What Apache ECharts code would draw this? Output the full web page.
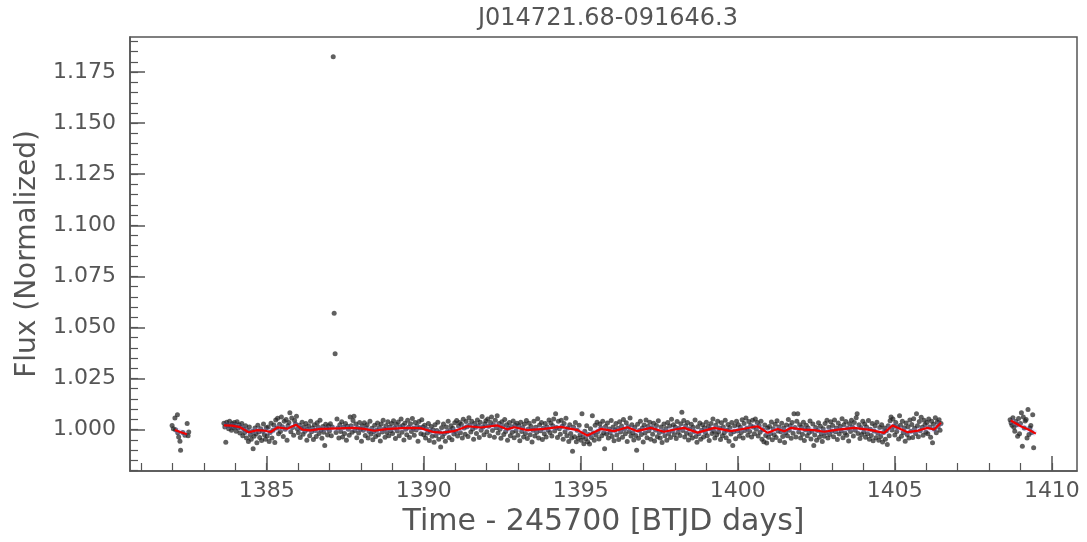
<!DOCTYPE html>
<html>
<head>
<meta charset="utf-8">
<title>J014721.68-091646.3</title>
<script src="https://cdn.jsdelivr.net/npm/echarts@6/dist/echarts.min.js"></script>
<style>
  html, body { margin: 0; padding: 0; background: #fff; }
  #chart { width: 1087px; height: 542px; }
</style>
</head>
<body>
<div id="chart"></div>
<script>
// Light curve, [time (BTJD - 245700), normalized flux]
const segmentA = [
  [1381.99,1.0020],[1382.03,1.0004],[1382.08,1.0057],[1382.10,0.9999],[1382.16,1.0073],[1382.17,0.9984],[1382.20,0.9964],
  [1382.24,0.9943],[1382.26,0.9899],[1382.33,0.9985],[1382.40,0.9972],[1382.47,1.0030],[1382.50,0.9970],[1382.52,0.9988]
];

const segmentB = [
  [1383.64,1.0031],[1383.67,1.0012],[1383.70,0.9938],[1383.73,1.0036],[1383.76,1.0021],[1383.79,1.0004],[1383.82,1.0040],[1383.85,1.0019],[1383.88,0.9996],[1383.91,1.0028],[1383.94,1.0009],[1383.97,1.0034],
  [1384.00,1.0015],[1384.03,0.9992],[1384.06,1.0038],[1384.09,1.0007],[1384.12,1.0024],[1384.15,0.9983],[1384.18,1.0011],[1384.21,1.0030],[1384.24,0.9969],[1384.27,1.0003],[1384.30,0.9986],[1384.33,1.0019],
  [1384.36,0.9958],[1384.39,0.9995],[1384.42,0.9941],[1384.45,1.0012],[1384.48,0.9974],[1384.51,0.9952],[1384.54,0.9990],[1384.57,0.9906],[1384.60,0.9967],[1384.63,1.0008],[1384.66,0.9979],[1384.69,0.9935],
  [1384.72,1.0021],[1384.75,0.9988],[1384.78,0.9961],[1384.81,1.0004],[1384.84,0.9946],[1384.87,0.9992],[1384.90,1.0027],[1384.93,0.9975],[1384.96,0.9953],[1384.99,1.0009],
  [1385.02,0.9968],[1385.05,1.0013],[1385.08,0.9942],[1385.11,0.9985],[1385.14,1.0031],[1385.17,0.9959],[1385.20,0.9996],[1385.23,1.0022],[1385.26,0.9937],[1385.29,1.0047],[1385.32,1.0008],
  [1385.35,1.0055],[1385.38,0.9979],[1385.41,1.0026],[1385.44,0.9991],[1385.47,1.0062],[1385.50,1.0014],[1385.53,0.9966],[1385.56,1.0040],[1385.59,1.0001],[1385.62,1.0049],[1385.65,0.9948],
  [1385.68,1.0018],[1385.71,1.0035],[1385.74,1.0082],[1385.77,0.9989],[1385.80,1.0057],[1385.83,1.0010],[1385.86,0.9972],[1385.89,1.0044],[1385.92,1.0027],[1385.95,1.0065],[1385.98,1.0003],
  [1386.01,0.9984],[1386.04,1.0021],[1386.07,0.9961],[1386.10,1.0005],[1386.13,1.0036],[1386.16,0.9977],[1386.19,1.0013],[1386.22,0.9992],[1386.25,1.0029],[1386.28,0.9948],[1386.31,1.0002],
  [1386.34,1.0017],[1386.37,0.9970],[1386.40,1.0041],[1386.43,0.9989],[1386.46,1.0008],[1386.49,0.9951],[1386.52,1.0024],[1386.55,0.9995],[1386.58,0.9966],[1386.61,1.0033],[1386.64,1.0011],
  [1386.67,0.9980],[1386.70,1.0046],[1386.73,0.9998],[1386.76,0.9957],[1386.79,1.0015],[1386.82,0.9987],[1386.85,0.9922],[1386.88,1.0026],[1386.91,1.0006],[1386.94,0.9973],[1386.97,1.0019],
  [1387.00,0.9993],[1387.03,1.0028],[1387.06,0.9969],[1387.09,1.0012],[1387.12,1.1825],[1387.15,1.0570],[1387.18,1.0371],[1387.21,0.9985],[1387.24,1.0052],[1387.27,1.0007],[1387.30,0.9958],
  [1387.33,1.0023],[1387.36,0.9990],[1387.39,1.0038],[1387.42,0.9964],[1387.45,1.0011],[1387.48,0.9981],[1387.51,1.0030],[1387.54,0.9947],[1387.57,1.0016],[1387.60,1.0001],[1387.63,0.9972],
  [1387.66,1.0062],[1387.69,1.0019],[1387.72,0.9987],[1387.75,1.0044],[1387.78,1.0065],[1387.81,0.9995],[1387.84,1.0027],[1387.87,0.9960],[1387.90,1.0009],[1387.93,0.9983],[1387.96,1.0035],[1387.99,1.0002],
  [1388.02,0.9943],[1388.05,1.0018],[1388.08,0.9996],[1388.11,1.0033],[1388.14,0.9971],[1388.17,1.0008],[1388.20,1.0024],[1388.23,0.9959],[1388.26,0.9992],[1388.29,1.0040],[1388.32,0.9978],
  [1388.35,1.0006],[1388.38,0.9950],[1388.41,0.9989],[1388.44,1.0021],[1388.47,0.9966],[1388.50,0.9997],[1388.53,1.0032],[1388.56,0.9975],[1388.59,1.0010],[1388.62,0.9944],[1388.65,1.0027],
  [1388.68,0.9988],[1388.71,1.0046],[1388.74,1.0003],[1388.77,0.9962],[1388.80,1.0019],[1388.83,0.9985],[1388.86,1.0038],[1388.89,0.9970],[1388.92,1.0012],[1388.95,0.9994],[1388.98,1.0029],
  [1389.01,0.9981],[1389.04,1.0043],[1389.07,1.0008],[1389.10,0.9956],[1389.13,1.0025],[1389.16,0.9993],[1389.19,1.0037],[1389.22,0.9969],[1389.25,1.0014],[1389.28,1.0051],[1389.31,0.9987],
  [1389.34,1.0020],[1389.37,0.9949],[1389.40,1.0031],[1389.43,1.0002],[1389.46,0.9975],[1389.49,1.0045],[1389.52,1.0011],[1389.55,0.9961],[1389.58,1.0028],[1389.61,0.9990],[1389.64,1.0054],
  [1389.67,1.0006],[1389.70,0.9972],[1389.73,1.0034],[1389.76,0.9998],[1389.79,1.0017],[1389.82,0.9943],[1389.85,1.0039],[1389.88,1.0009],[1389.91,0.9979],[1389.94,1.0048],[1389.97,1.0013],
  [1390.00,0.9975],[1390.03,1.0021],[1390.06,0.9958],[1390.09,1.0004],[1390.12,0.9983],[1390.15,1.0030],[1390.18,0.9946],[1390.21,0.9992],[1390.24,1.0015],[1390.27,0.9967],[1390.30,0.9999],
  [1390.33,0.9938],[1390.36,1.0024],[1390.39,0.9971],[1390.42,0.9995],[1390.45,1.0036],[1390.48,0.9952],[1390.51,0.9986],[1390.54,0.9914],[1390.57,1.0009],[1390.60,0.9965],[1390.63,1.0027],
  [1390.66,0.9980],[1390.69,0.9943],[1390.72,1.0012],[1390.75,0.9989],[1390.78,1.0041],[1390.81,0.9961],[1390.84,0.9997],[1390.87,1.0019],[1390.90,0.9950],[1390.93,1.0006],[1390.96,0.9978],[1390.99,1.0033],
  [1391.02,0.9991],[1391.05,1.0044],[1391.08,0.9968],[1391.11,1.0017],[1391.14,1.0035],[1391.17,0.9984],[1391.20,1.0026],[1391.23,0.9959],[1391.26,1.0050],[1391.29,1.0008],[1391.32,0.9977],
  [1391.35,1.0039],[1391.38,1.0014],[1391.41,0.9966],[1391.44,1.0058],[1391.47,1.0022],[1391.50,0.9988],[1391.53,1.0041],[1391.56,1.0003],[1391.59,0.9952],[1391.62,1.0030],[1391.65,1.0011],
  [1391.68,0.9980],[1391.71,1.0047],[1391.74,1.0019],[1391.77,0.9961],[1391.80,1.0036],[1391.83,0.9996],[1391.86,1.0064],[1391.89,1.0013],[1391.92,0.9974],[1391.95,1.0028],[1391.98,1.0043],
  [1392.01,0.9989],[1392.04,1.0052],[1392.07,1.0016],[1392.10,0.9970],[1392.13,1.0034],[1392.16,1.0061],[1392.19,0.9995],[1392.22,1.0024],[1392.25,0.9962],[1392.28,1.0045],[1392.31,1.0009],
  [1392.34,1.0067],[1392.37,0.9983],[1392.40,1.0030],[1392.43,1.0002],[1392.46,0.9957],[1392.49,1.0038],[1392.52,1.0015],[1392.55,0.9976],[1392.58,1.0049],[1392.61,0.9991],[1392.64,1.0023],
  [1392.67,0.9948],[1392.70,1.0006],[1392.73,1.0035],[1392.76,0.9969],[1392.79,1.0014],[1392.82,0.9987],[1392.85,1.0042],[1392.88,0.9960],[1392.91,1.0021],[1392.94,0.9993],[1392.97,1.0031],
  [1393.00,0.9972],[1393.03,1.0018],[1393.06,0.9945],[1393.09,1.0036],[1393.12,0.9990],[1393.15,1.0009],[1393.18,0.9963],[1393.21,1.0027],[1393.24,0.9981],[1393.27,1.0044],[1393.30,0.9956],
  [1393.33,1.0003],[1393.36,1.0031],[1393.39,0.9974],[1393.42,1.0015],[1393.45,0.9939],[1393.48,0.9996],[1393.51,1.0040],[1393.54,0.9968],[1393.57,1.0011],[1393.60,0.9987],[1393.63,1.0053],
  [1393.66,0.9958],[1393.69,1.0022],[1393.72,0.9994],[1393.75,1.0035],[1393.78,0.9951],[1393.81,1.0006],[1393.84,0.9979],[1393.87,1.0029],[1393.90,0.9964],[1393.93,1.0013],[1393.96,0.9998],[1393.99,1.0047],
  [1394.02,0.9985],[1394.05,1.0032],[1394.08,0.9968],[1394.11,1.0019],[1394.14,1.0051],[1394.17,0.9993],[1394.20,1.0077],[1394.23,1.0010],[1394.26,0.9961],[1394.29,1.0040],[1394.32,1.0004],
  [1394.35,0.9977],[1394.38,1.0046],[1394.41,1.0016],[1394.44,0.9952],[1394.47,1.0029],[1394.50,0.9989],[1394.53,1.0055],[1394.56,0.9970],[1394.59,1.0008],[1394.62,0.9942],[1394.65,1.0023],
  [1394.68,0.9981],[1394.71,0.9959],[1394.74,0.9894],[1394.77,1.0012],[1394.80,0.9965],[1394.83,1.0034],[1394.86,0.9940],[1394.89,0.9996],[1394.92,0.9957],[1394.95,1.0021],[1394.98,0.9975],
  [1395.01,0.9948],[1395.04,1.0077],[1395.07,0.9963],[1395.10,0.9931],[1395.13,0.9992],[1395.16,0.9955],[1395.19,1.0018],[1395.22,0.9940],[1395.25,0.9976],[1395.28,0.9929],[1395.31,1.0004],
  [1395.34,0.9961],[1395.37,1.0068],[1395.40,0.9983],[1395.43,0.9947],[1395.46,1.0021],[1395.49,0.9972],[1395.52,1.0036],[1395.55,0.9990],[1395.58,0.9954],[1395.61,1.0027],[1395.64,1.0008],
  [1395.67,0.9969],[1395.70,1.0040],[1395.73,0.9984],[1395.76,0.9906],[1395.79,1.0015],[1395.82,0.9978],[1395.85,1.0032],[1395.88,0.9958],[1395.91,1.0003],[1395.94,0.9986],[1395.97,1.0044],
  [1396.00,0.9966],[1396.03,1.0012],[1396.06,0.9945],[1396.09,0.9997],[1396.12,1.0029],[1396.15,0.9973],[1396.18,1.0006],[1396.21,0.9951],[1396.24,1.0038],[1396.27,0.9988],[1396.30,1.0017],
  [1396.33,0.9962],[1396.36,1.0049],[1396.39,1.0001],[1396.42,0.9979],[1396.45,1.0033],[1396.48,0.9942],[1396.51,1.0014],[1396.54,0.9990],[1396.57,1.0056],[1396.60,0.9968],[1396.63,1.0023],
  [1396.66,0.9984],[1396.69,0.9949],[1396.72,1.0010],[1396.75,0.9971],[1396.78,0.9899],[1396.81,1.0026],[1396.84,0.9957],[1396.87,0.9995],[1396.90,1.0041],[1396.93,0.9976],[1396.96,1.0008],[1396.99,0.9939],
  [1397.02,1.0022],[1397.05,0.9983],[1397.08,1.0047],[1397.11,0.9960],[1397.14,1.0015],[1397.17,0.9994],[1397.20,1.0036],[1397.23,0.9952],[1397.26,1.0009],[1397.29,0.9977],[1397.32,1.0031],
  [1397.35,0.9944],[1397.38,0.9998],[1397.41,1.0020],[1397.44,0.9965],[1397.47,1.0043],[1397.50,0.9986],[1397.53,0.9958],[1397.56,1.0012],[1397.59,0.9937],[1397.62,0.9991],[1397.65,1.0027],
  [1397.68,0.9969],[1397.71,1.0005],[1397.74,0.9948],[1397.77,1.0034],[1397.80,0.9980],[1397.83,1.0017],[1397.86,0.9961],[1397.89,1.0050],[1397.92,0.9993],[1397.95,1.0024],[1397.98,0.9975],
  [1398.01,1.0013],[1398.04,0.9956],[1398.07,1.0039],[1398.10,0.9987],[1398.13,1.0006],[1398.16,0.9971],[1398.19,1.0028],[1398.22,1.0085],[1398.25,0.9995],[1398.28,1.0044],[1398.31,0.9963],
  [1398.34,1.0018],[1398.37,0.9982],[1398.40,1.0035],[1398.43,0.9949],[1398.46,1.0003],[1398.49,0.9976],[1398.52,1.0026],[1398.55,0.9958],[1398.58,1.0011],[1398.61,0.9990],[1398.64,1.0047],
  [1398.67,0.9966],[1398.70,0.9938],[1398.73,1.0014],[1398.76,0.9979],[1398.79,1.0032],[1398.82,0.9953],[1398.85,0.9996],[1398.88,1.0023],[1398.91,0.9964],[1398.94,1.0009],[1398.97,0.9985],
  [1399.00,1.0036],[1399.03,0.9970],[1399.06,1.0015],[1399.09,0.9946],[1399.12,1.0004],[1399.15,1.0029],[1399.18,0.9981],[1399.21,1.0052],[1399.24,0.9992],[1399.27,0.9959],[1399.30,1.0021],
  [1399.33,0.9975],[1399.36,1.0040],[1399.39,0.9988],[1399.42,1.0007],[1399.45,0.9951],[1399.48,1.0033],[1399.51,0.9969],[1399.54,1.0012],[1399.57,0.9984],[1399.60,1.0045],[1399.63,0.9960],
  [1399.66,0.9997],[1399.69,1.0025],[1399.72,0.9943],[1399.75,1.0010],[1399.78,0.9978],[1399.81,1.0034],[1399.84,0.9922],[1399.87,0.9989],[1399.90,1.0018],[1399.93,0.9955],[1399.96,1.0041],[1399.99,0.9993],
  [1400.02,1.0024],[1400.05,0.9967],[1400.08,1.0011],[1400.11,0.9986],[1400.14,1.0048],[1400.17,0.9958],[1400.20,1.0030],[1400.23,0.9995],[1400.26,1.0057],[1400.29,1.0006],[1400.32,0.9972],
  [1400.35,1.0039],[1400.38,0.9990],[1400.41,1.0020],[1400.44,0.9963],[1400.47,1.0045],[1400.50,1.0013],[1400.53,0.9979],[1400.56,1.0051],[1400.59,1.0002],[1400.62,1.0034],[1400.65,0.9968],
  [1400.68,1.0018],[1400.71,0.9987],[1400.74,1.0041],[1400.77,0.9953],[1400.80,0.9999],[1400.83,0.9940],[1400.86,1.0022],[1400.89,0.9971],[1400.92,0.9934],[1400.95,1.0008],[1400.98,0.9962],
  [1401.01,1.0015],[1401.04,0.9981],[1401.07,1.0037],[1401.10,0.9950],[1401.13,1.0004],[1401.16,0.9975],[1401.19,1.0026],[1401.22,0.9961],[1401.25,1.0043],[1401.28,0.9993],[1401.31,1.0012],
  [1401.34,0.9945],[1401.37,0.9989],[1401.40,1.0031],[1401.43,0.9966],[1401.46,1.0008],[1401.49,0.9937],[1401.52,0.9984],[1401.55,1.0022],[1401.58,0.9970],[1401.61,1.0049],[1401.64,0.9996],
  [1401.67,1.0018],[1401.70,0.9957],[1401.73,1.0035],[1401.76,0.9982],[1401.79,1.0077],[1401.82,1.0010],[1401.85,0.9964],[1401.88,1.0040],[1401.91,1.0077],[1401.94,0.9988],[1401.97,1.0024],
  [1402.00,0.9958],[1402.03,1.0013],[1402.06,0.9977],[1402.09,1.0036],[1402.12,0.9946],[1402.15,0.9999],[1402.18,1.0021],[1402.21,0.9969],[1402.24,1.0007],[1402.27,0.9985],[1402.30,1.0042],
  [1402.33,0.9954],[1402.36,0.9992],[1402.39,1.0027],[1402.42,0.9922],[1402.45,0.9973],[1402.48,1.0010],[1402.51,0.9948],[1402.54,0.9995],[1402.57,1.0033],[1402.60,0.9962],[1402.63,1.0016],
  [1402.66,0.9980],[1402.69,0.9941],[1402.72,1.0004],[1402.75,0.9967],[1402.78,1.0029],[1402.81,0.9986],[1402.84,1.0045],[1402.87,0.9959],[1402.90,1.0011],[1402.93,0.9976],[1402.96,1.0038],[1402.99,0.9993],
  [1403.02,1.0020],[1403.05,0.9965],[1403.08,1.0047],[1403.11,0.9989],[1403.14,1.0008],[1403.17,0.9951],[1403.20,1.0032],[1403.23,0.9978],[1403.26,1.0015],[1403.29,0.9994],[1403.32,1.0053],
  [1403.35,0.9960],[1403.38,1.0024],[1403.41,0.9983],[1403.44,1.0039],[1403.47,0.9972],[1403.50,1.0006],[1403.53,0.9944],[1403.56,1.0028],[1403.59,0.9991],[1403.62,1.0046],[1403.65,1.0012],
  [1403.68,0.9968],[1403.71,1.0035],[1403.74,0.9997],[1403.77,1.0058],[1403.80,1.0077],[1403.83,0.9981],[1403.86,1.0023],[1403.89,0.9956],[1403.92,1.0009],[1403.95,0.9976],[1403.98,1.0041],
  [1404.01,0.9988],[1404.04,1.0027],[1404.07,0.9962],[1404.10,1.0013],[1404.13,0.9979],[1404.16,1.0044],[1404.19,0.9953],[1404.22,1.0002],[1404.25,0.9971],[1404.28,1.0030],[1404.31,0.9945],
  [1404.34,0.9993],[1404.37,1.0018],[1404.40,0.9960],[1404.43,1.0036],[1404.46,0.9982],[1404.49,0.9948],[1404.52,1.0010],[1404.55,0.9966],[1404.58,1.0024],[1404.61,0.9939],[1404.64,0.9985],
  [1404.67,1.0008],[1404.70,0.9952],[1404.73,0.9994],[1404.76,0.9927],[1404.79,1.0019],[1404.82,0.9970],[1404.85,1.0043],[1404.88,1.0062],[1404.91,0.9998],[1404.94,1.0051],[1404.97,1.0016],
  [1405.00,0.9973],[1405.03,1.0035],[1405.06,0.9991],[1405.09,1.0012],[1405.12,0.9954],[1405.15,1.0068],[1405.18,1.0021],[1405.21,0.9967],[1405.24,1.0040],[1405.27,0.9985],[1405.30,1.0009],
  [1405.33,0.9943],[1405.36,1.0032],[1405.39,0.9976],[1405.42,1.0014],[1405.45,0.9958],[1405.48,1.0047],[1405.51,0.9992],[1405.54,1.0025],[1405.57,0.9961],[1405.60,1.0053],[1405.63,1.0006],
  [1405.66,0.9980],[1405.69,1.0077],[1405.72,1.0018],[1405.75,0.9965],[1405.78,1.0039],[1405.81,0.9994],[1405.84,1.0060],[1405.87,1.0011],[1405.90,0.9972],[1405.93,1.0045],[1405.96,1.0023],[1405.99,0.9987],
  [1406.02,1.0034],[1406.05,0.9979],[1406.08,1.0051],[1406.11,1.0012],[1406.14,0.9962],[1406.17,1.0040],[1406.20,0.9935],[1406.23,1.0026],
  [1406.26,1.0003],[1406.29,1.0058],[1406.32,0.9984],[1406.35,1.0037],[1406.38,1.0015],[1406.41,1.0048],[1406.44,0.9996],[1406.47,1.0029]
];

const segmentC = [
  [1408.67,1.0048],[1408.70,1.0033],[1408.73,1.0021],[1408.76,1.0058],[1408.79,1.0011],[1408.82,0.9992],[1408.85,1.0039],[1408.88,1.0024],[1408.91,0.9967],
  [1408.94,1.0054],[1408.97,0.9979],[1409.00,1.0030],[1409.03,1.0082],[1409.06,0.9918],[1409.09,1.0061],[1409.12,1.0008],[1409.15,1.0042],[1409.18,1.0049],
  [1409.21,0.9959],[1409.24,1.0098],[1409.27,0.9976],[1409.30,1.0008],[1409.33,1.0020],[1409.36,0.9985],[1409.39,1.0073],[1409.42,0.9911]
];

// Binned trend drawn over the points
const trendA = [[1382.08,0.9998],[1382.25,0.9988],[1382.46,0.9977]];
const trendB = [
  [1383.64,1.0020],[1383.90,1.0019],[1384.15,1.0012],[1384.43,0.9987],[1384.70,0.9997],[1384.95,0.9994],[1385.13,0.9988],
  [1385.35,1.0011],[1385.66,1.0004],[1385.93,1.0024],[1386.14,1.0000],[1386.40,0.9996],[1386.72,1.0003],[1387.00,1.0004],
  [1387.30,1.0006],[1387.78,1.0008],[1388.10,1.0003],[1388.42,0.9994],[1388.80,1.0002],[1389.16,1.0006],[1389.50,1.0008],
  [1389.90,1.0007],[1390.33,0.9987],[1390.60,0.9985],[1390.96,0.9992],[1391.39,1.0016],[1391.82,1.0010],[1392.35,1.0020],
  [1392.66,1.0001],[1392.88,1.0011],[1393.30,0.9997],[1393.83,1.0003],[1394.36,1.0013],[1394.90,0.9997],[1395.21,0.9971],
  [1395.64,1.0003],[1396.06,0.9992],[1396.49,1.0011],[1396.80,0.9992],[1397.23,1.0008],[1397.65,0.9989],[1398.00,1.0000],
  [1398.29,1.0008],[1398.72,0.9985],[1399.25,1.0008],[1399.78,0.9992],[1400.20,1.0004],[1400.63,1.0016],[1400.95,0.9984],
  [1401.27,1.0003],[1401.48,0.9992],[1401.69,1.0008],[1402.10,1.0000],[1402.43,0.9997],[1402.75,0.9989],[1403.20,1.0000],
  [1403.71,1.0008],[1404.20,0.9998],[1404.66,0.9984],[1404.93,1.0020],[1405.41,0.9987],[1405.75,0.9995],[1406.04,1.0008],
  [1406.25,1.0000],[1406.47,1.0033]
];
const trendC = [[1408.69,1.0044],[1409.01,1.0016],[1409.25,1.0000],[1409.49,0.9980]];

// Axis extents and tick positions
const X_RANGE = [1380.65, 1410.8];
const Y_RANGE = [0.9797, 1.1922];
const X_MAJOR = [1385, 1390, 1395, 1400, 1405, 1410];
const X_MINOR = [1381,1382,1383,1384,1385,1386,1387,1388,1389,1390,1391,1392,1393,1394,1395,
                 1396,1397,1398,1399,1400,1401,1402,1403,1404,1405,1406,1407,1408,1409,1410];
const Y_MAJOR = [1.000, 1.025, 1.050, 1.075, 1.100, 1.125, 1.150, 1.175];
const Y_MINOR = [0.980,0.985,0.990,0.995,1.000,1.005,1.010,1.015,1.020,1.025,1.030,1.035,1.040,1.045,
                 1.050,1.055,1.060,1.065,1.070,1.075,1.080,1.085,1.090,1.095,1.100,1.105,1.110,1.115,
                 1.120,1.125,1.130,1.135,1.140,1.145,1.150,1.155,1.160,1.165,1.170,1.175,1.180,1.185,1.190];

const TITLE = 'J014721.68-091646.3';
const X_NAME = 'Time - 245700 [BTJD days]';
const Y_NAME = 'Flux (Normalized)';

const FONT = 'DejaVu Sans';
const TEXT = '#555555';
const FRAME = '#555555';

const chart = echarts.init(document.getElementById('chart'), null, { renderer: 'canvas' });

function majorX() {
  return {
    type: 'value', min: X_RANGE[0], max: X_RANGE[1], position: 'bottom',
    axisLine: { show: true, lineStyle: { color: FRAME, width: 1.5 } },
    axisTick: { show: true, inside: true, length: 15, customValues: X_MAJOR, lineStyle: { color: FRAME, width: 1.5 } },
    axisLabel: { show: true, customValues: X_MAJOR, margin: 9, color: TEXT, fontFamily: FONT, fontSize: 22,
                 formatter: v => String(Math.round(v)) },
    splitLine: { show: false },
    name: X_NAME, nameLocation: 'middle', nameGap: 33,
    nameTextStyle: { color: TEXT, fontFamily: FONT, fontSize: 30 }
  };
}
function minorX() {
  return {
    type: 'value', min: X_RANGE[0], max: X_RANGE[1], position: 'bottom',
    axisLine: { show: false },
    axisTick: { show: true, inside: true, length: 8, customValues: X_MINOR, lineStyle: { color: FRAME, width: 1.2 } },
    axisLabel: { show: false },
    splitLine: { show: false }
  };
}
function majorY() {
  return {
    type: 'value', min: Y_RANGE[0], max: Y_RANGE[1], position: 'left',
    axisLine: { show: true, lineStyle: { color: FRAME, width: 1.5 } },
    axisTick: { show: true, inside: true, length: 15, customValues: Y_MAJOR, lineStyle: { color: FRAME, width: 1.5 } },
    axisLabel: { show: true, customValues: Y_MAJOR, margin: 14, color: TEXT, fontFamily: FONT, fontSize: 22,
                 formatter: v => Number(v).toFixed(3) },
    splitLine: { show: false },
    name: Y_NAME, nameLocation: 'middle', nameGap: 87, nameRotate: 90,
    nameTextStyle: { color: TEXT, fontFamily: FONT, fontSize: 28 }
  };
}
function minorY() {
  return {
    type: 'value', min: Y_RANGE[0], max: Y_RANGE[1], position: 'left',
    axisLine: { show: false },
    axisTick: { show: true, inside: true, length: 8, customValues: Y_MINOR, lineStyle: { color: FRAME, width: 1.2 } },
    axisLabel: { show: false },
    splitLine: { show: false }
  };
}

const pointStyle = { color: 'rgba(35,35,35,0.9)' };
const dotSeries = (data) => ({
  type: 'scatter', data, symbol: 'circle', symbolSize: 5,
  itemStyle: pointStyle, silent: true, z: 2, animation: false
});
const haloSeries = (data) => ({
  type: 'line', data, showSymbol: false, silent: true, z: 3,
  lineStyle: { color: 'rgba(140,140,255,0.22)', width: 6 }, animation: false
});
const trendSeries = (data) => ({
  type: 'line', data, showSymbol: false, silent: true, z: 4,
  lineStyle: { color: '#f00000', width: 2.2 }, animation: false
});

chart.setOption({
  animation: false,
  backgroundColor: '#ffffff',
  title: {
    text: TITLE, left: 603, top: 2, textAlign: 'center',
    textStyle: { color: TEXT, fontFamily: FONT, fontSize: 24, fontWeight: 'normal' }
  },
  grid: {
    left: 130, right: 10, top: 37, bottom: 71,
    show: true, borderColor: FRAME, borderWidth: 1.5, backgroundColor: 'transparent'
  },
  xAxis: [majorX(), minorX()],
  yAxis: [majorY(), minorY()],
  series: [
    dotSeries(segmentA), dotSeries(segmentB), dotSeries(segmentC),
    haloSeries(trendA), haloSeries(trendB), haloSeries(trendC),
    trendSeries(trendA), trendSeries(trendB), trendSeries(trendC)
  ]
});
</script>
</body>
</html>
